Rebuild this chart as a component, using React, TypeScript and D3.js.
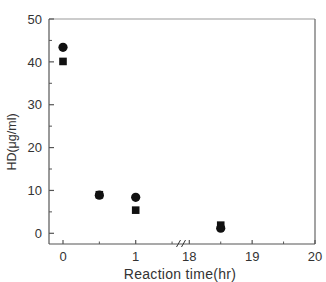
import React from "react";
import * as d3 from "d3";

const circleX = [0, 0.5, 1, 18.5];
const circleY = [43.4, 8.9, 8.4, 1.2];
const squareX = [0, 0.5, 1, 18.5];
const squareY = [40.1, 9.0, 5.4, 1.9];
const yTicks = [0, 10, 20, 30, 40, 50];
const yMinor = [5, 15, 25, 35, 45];
const xTicksLeft = [0, 1];
const xMinorLeft = [0.5, 1.5];
const xTicksRight = [18, 19, 20];
const xMinorRight = [18.5, 19.5];

const W = 326, H = 282;
const L = 49, R = 315, T = 19, B = 244;

export default function App() {
  const y = d3.scaleLinear().domain([0, 50]).range([233.3, 19]);
  const xl = d3.scaleLinear().domain([0, 1]).range([63, 135.7]);
  const xr = d3.scaleLinear().domain([18, 20]).range([189.3, 315]);
  const x = (v: number) => (v <= 10 ? xl(v) : xr(v));
  const textColor = "#333";
  const font = "'Liberation Sans', Arial, sans-serif";
  const breakX = 181.5;
  return (
    <svg width={W} height={H} style={{ position: "absolute", left: 0, top: 0 }} fontFamily={font}>
      <rect x={0} y={0} width={W} height={H} fill="#fff" />
      {/* frame */}
      <line x1={L} y1={T} x2={R} y2={T} stroke="#999" strokeWidth={1} />
      <line x1={R} y1={T} x2={R} y2={B} stroke="#666" strokeWidth={1.2} />
      <line x1={L} y1={T} x2={L} y2={B} stroke="#555" strokeWidth={1.2} />
      <line x1={L} y1={B} x2={R} y2={B} stroke="#555" strokeWidth={1.2} />
      {/* y ticks */}
      {yTicks.map((t) => (
        <g key={"yt" + t}>
          <line x1={L} x2={L + 5} y1={y(t)} y2={y(t)} stroke="#555" strokeWidth={1.2} />
          <text x={42} y={y(t)} dy="0.36em" textAnchor="end" fontSize={13} fill={textColor}>
            {t}
          </text>
        </g>
      ))}
      {yMinor.map((t) => (
        <line key={"ym" + t} x1={L} x2={L + 3} y1={y(t)} y2={y(t)} stroke="#555" strokeWidth={1} />
      ))}
      {/* x ticks */}
      {xTicksLeft.map((t) => (
        <g key={"xl" + t}>
          <line x1={xl(t)} x2={xl(t)} y1={B} y2={B - 4} stroke="#555" strokeWidth={1.2} />
          <text x={xl(t)} y={261} textAnchor="middle" fontSize={13} fill={textColor}>
            {t}
          </text>
        </g>
      ))}
      {xMinorLeft.map((t) => (
        <line key={"xml" + t} x1={xl(t)} x2={xl(t)} y1={B} y2={B - 2.5} stroke="#555" strokeWidth={1} />
      ))}
      {xTicksRight.map((t) => (
        <g key={"xr" + t}>
          <line x1={xr(t)} x2={xr(t)} y1={B} y2={B - 4} stroke="#555" strokeWidth={1.2} />
          <text x={xr(t)} y={261} textAnchor="middle" fontSize={13} fill={textColor}>
            {t}
          </text>
        </g>
      ))}
      {xMinorRight.map((t) => (
        <line key={"xmr" + t} x1={xr(t)} x2={xr(t)} y1={B} y2={B - 2.5} stroke="#555" strokeWidth={1} />
      ))}
      {/* axis break */}
      <line x1={breakX - 5} y1={B + 3} x2={breakX - 1} y2={B - 4} stroke="#333" strokeWidth={1} />
      <line x1={breakX + 0} y1={B + 3} x2={breakX + 4} y2={B - 4} stroke="#333" strokeWidth={1} />
      {/* data */}
      {squareX.map((v, i) => (
        <rect key={"s" + i} x={x(v) - 3.8} y={y(squareY[i]) - 3.8} width={7.6} height={7.6} fill="#111" />
      ))}
      {circleX.map((v, i) => (
        <circle key={"c" + i} cx={x(v)} cy={y(circleY[i])} r={4.6} fill="#111" />
      ))}
      {/* axis labels */}
      <text x={180} y={279} textAnchor="middle" fontSize={14} fill={textColor} letterSpacing={0.3}>
        Reaction time(hr)
      </text>
      <text
        transform={`translate(15.5,142) rotate(-90)`}
        textAnchor="middle"
        fontSize={12.5}
        fill={textColor}
      >
        HD(μg/ml)
      </text>
    </svg>
  );
}
